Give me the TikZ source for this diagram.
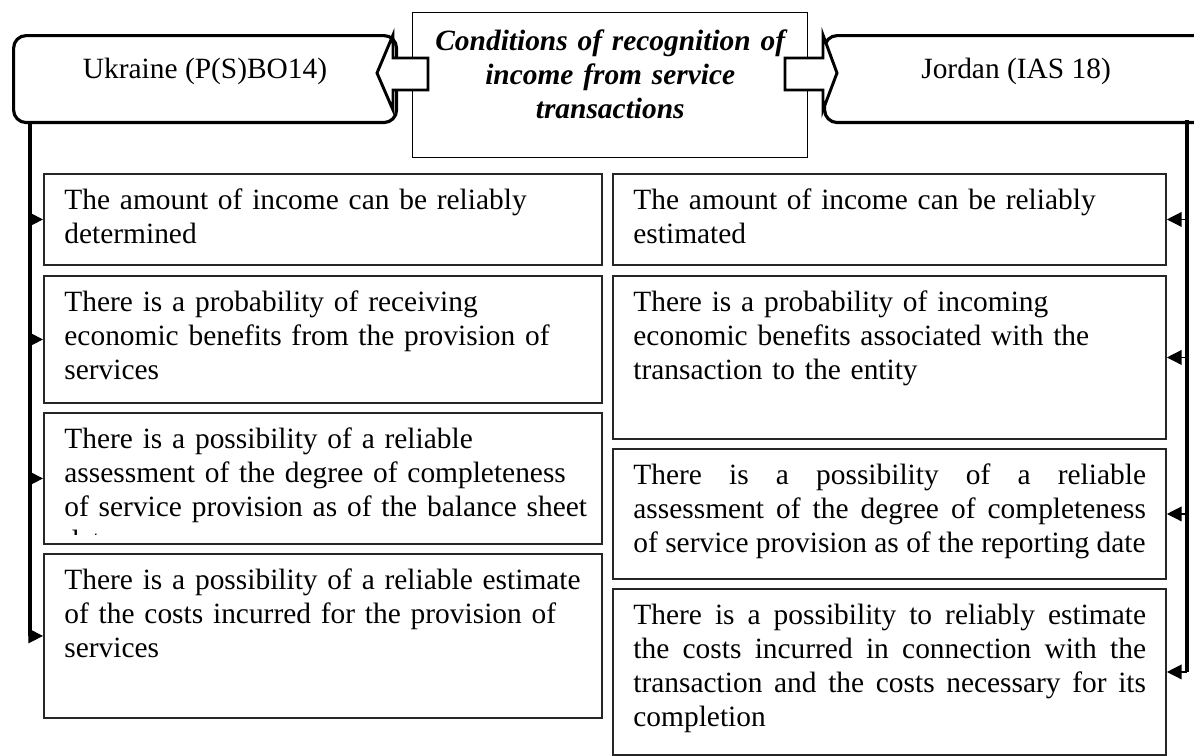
\documentclass[tikz,border=0pt]{standalone}
\usepackage{fontspec}
\setmainfont{Liberation Serif}
\usetikzlibrary{arrows.meta}

\def\pxu{0.476pt}

\tikzset{
  txt/.style={font=\fontsize{14}{16.1}\selectfont,
    execute at begin node={\hyphenpenalty=10000\exhyphenpenalty=10000}},
  callout/.style={txt, draw, line width=1.5pt, rounded corners=6pt, anchor=north west,
    inner sep=0pt, minimum width=383*\pxu, text height=20.5pt, text depth=20.9pt},
  blockarrow/.style={draw, fill=white, line width=1.4pt, line join=miter},
  cbox/.style 2 args={draw=black!85, line width=0.9pt, anchor=north west, inner sep=0pt,
    minimum width=#1*\pxu, minimum height=#2*\pxu},
  ctxt/.style={txt, anchor=north west, text width=250pt, inner xsep=10pt, inner ysep=7.5pt,
    align=left},
  jtxt/.style={ctxt, text width=244pt, align=justify},
  trunk/.style={line width=1.6pt},
  branch/.style={line width=0.6pt, -{Triangle[length=7pt,width=7pt]}}
}

\begin{document}
\begin{tikzpicture}[x=\pxu, y=-\pxu]
  \clip (0,0) rectangle (1194,756);
  \useasboundingbox (0,0) rectangle (1194,756);

  % top row
  \node[callout] (ua) at (12,34) {Ukraine (P(S)BO14)};
  \node[callout] (jo) at (823,34) {Jordan (IAS 18)};
  \node[draw, line width=0.7pt, anchor=north west, inner sep=0pt,
        minimum width=395*\pxu, minimum height=145*\pxu] (cond) at (412,12) {};
  \node[txt, font=\fontsize{14}{16.1}\selectfont\bfseries\itshape, anchor=north,
        text width=184pt, align=center, inner xsep=0pt, inner ysep=8.5pt] (condt) at (cond.north)
        {Conditions of recognition of\\ income from service\\ transactions};

  \draw[blockarrow] (428,58) -- (393,58) -- (393,35) -- (377,73) -- (393,110) -- (393,90) -- (428,90) -- cycle;
  \draw[blockarrow] (785,58) -- (823,58) -- (823,35) -- (837,73) -- (823,110) -- (823,90) -- (785,90) -- cycle;

  % Ukraine
  \node[cbox={558}{91}]  (l1) at (43,173) {};
  \node[cbox={558}{127}] (l2) at (43,275) {};
  \node[cbox={558}{131}] (l3) at (43,412) {};
  \node[cbox={558}{164}] (l4) at (43,553) {};
  \node[ctxt] (l1t) at (l1.north west) {The amount of income can be reliably\\ determined};
  \node[ctxt] (l2t) at (l2.north west) {There is a probability of receiving\\ economic benefits from the provision of\\ services};
  \begin{scope}
    \clip (l3.north west) rectangle ([yshift=5pt]l3.south east);
    \node[ctxt] (l3t) at (l3.north west) {There is a possibility of a reliable\\ assessment of the degree of completeness\\ of service provision as of the balance sheet\\ date};
  \end{scope}
  \node[ctxt] (l4t) at (l4.north west) {There is a possibility of a reliable estimate\\ of the costs incurred for the provision of\\ services};

  % Jordan
  \node[cbox={553}{91}]  (r1) at (612,173) {};
  \node[cbox={553}{163}] (r2) at (612,275) {};
  \node[cbox={553}{130}] (r3) at (612,448) {};
  \node[cbox={553}{166}] (r4) at (612,588) {};
  \node[ctxt] (r1t) at (r1.north west) {The amount of income can be reliably\\ estimated};
  \node[ctxt] (r2t) at (r2.north west) {There is a probability of incoming\\ economic benefits associated with the\\ transaction to the entity};
  \node[jtxt] (r3t) at (r3.north west) {There is a possibility of a reliable\linebreak{} assessment of the degree of completeness\linebreak{} of service provision as of the reporting date};
  \node[jtxt] (r4t) at (r4.north west) {There is a possibility to reliably estimate\linebreak{} the costs incurred in connection with the\linebreak{} transaction and the costs necessary for its\linebreak{} completion};

  % connectors
  \coordinate (ltop) at (30,121);
  \coordinate (rtop) at (1187,120);
  \draw[trunk] (ltop) -- (ltop |- l4.west);
  \draw[trunk] (rtop) -- (rtop |- r4.east);
  \foreach \b in {l1,l2,l3,l4} \draw[branch] (ltop |- \b.west) -- (\b.west);
  \foreach \b in {r1,r2,r3,r4} \draw[branch] (rtop |- \b.east) -- (\b.east);
\end{tikzpicture}
\end{document}
